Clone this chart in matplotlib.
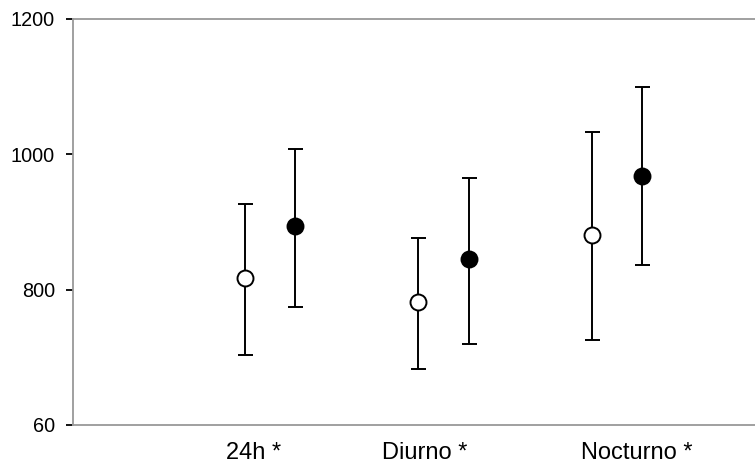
import matplotlib
matplotlib.use("Agg")
import matplotlib.pyplot as plt

plt.rcParams['font.family'] = ['Liberation Sans', 'DejaVu Sans']

categories = ["24h *", "Diurno *", "Nocturno *"]
open_mean = [817, 782, 881]
open_upper = [927, 876, 1033]
open_lower = [703, 683, 726]
filled_mean = [894, 845, 968]
filled_upper = [1008, 965, 1100]
filled_lower = [774, 720, 836]
ytick_values = [600, 800, 1000, 1200]
ytick_labels = ["60", "800", "1000", "1200"]

fig = plt.figure(figsize=(7.55, 4.67), dpi=100)
ax = fig.add_axes([73/755, 1-425/467, 1-73/755, (425-19)/467])

xs = list(range(len(categories)))
off = 0.146
xo = [x - off for x in xs]
xf = [x + off for x in xs]

def yerr(mean, lo, hi):
    return [[m - l for m, l in zip(mean, lo)], [h - m for m, h in zip(mean, hi)]]

common = dict(fmt='o', color='black', ecolor='black', elinewidth=1.4, capsize=5.4,
              capthick=1.4, markersize=11.5, markeredgecolor='black',
              markeredgewidth=1.4, zorder=3)
ax.errorbar(xo, open_mean, yerr=yerr(open_mean, open_lower, open_upper),
            markerfacecolor='white', **common)
ax.errorbar(xf, filled_mean, yerr=yerr(filled_mean, filled_lower, filled_upper),
            markerfacecolor='black', **common)

ax.set_xlim(-1.135, 2.795)
ax.set_ylim(600, 1200)
ax.set_yticks(ytick_values)
ax.set_yticklabels(ytick_labels, fontsize=14.3)
ax.tick_params(axis='y', direction='out', length=5, width=1.3, color='black', pad=8)

label_pos = [-0.095, 0.890, 2.112]
ax.set_xticks(label_pos)
ax.set_xticklabels(categories, fontsize=17)
ax.tick_params(axis='x', length=0, pad=12.5)

for s in ['left', 'top', 'bottom']:
    ax.spines[s].set_color('#999999')
    ax.spines[s].set_linewidth(1.3)
ax.spines['right'].set_visible(False)

fig.savefig('out.png', dpi=100)
